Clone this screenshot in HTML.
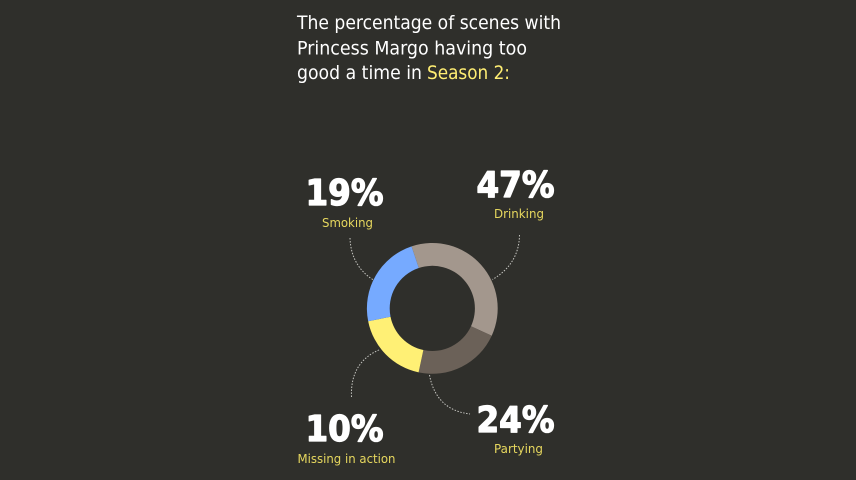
<!DOCTYPE html>
<html lang="en">
<head>
<meta charset="utf-8">
<title>Princess Margo donut chart</title>
<style>
  html, body { margin: 0; padding: 0; width: 856px; height: 480px; background: #2f2f2b; overflow: hidden; }
  svg { display: block; }
  text { font-family: "DejaVu Sans", "Liberation Sans", sans-serif; }
  .title { font-size: 19px; fill: #ffffff; }
  .accent { fill: #ffee73; }
  .pct { font-size: 36px; font-weight: bold; fill: #ffffff; stroke: #ffffff; stroke-width: 1.3px; stroke-linejoin: round; }
  .cat { font-size: 12.5px; fill: #e6d75e; }
  .connector { fill: none; stroke: #e0e0dc; stroke-width: 1; stroke-dasharray: 1.5 1.5; opacity: .85; }
</style>
</head>
<body>
<svg id="chart" width="856" height="480" viewBox="0 0 856 480" xmlns="http://www.w3.org/2000/svg">
  <rect x="0" y="0" width="856" height="480" fill="#2f2f2b"/>
  <g>
    <text class="title" x="297" y="29" textLength="264" lengthAdjust="spacingAndGlyphs">The percentage of scenes with</text>
    <text class="title" x="297" y="54.5" textLength="230" lengthAdjust="spacingAndGlyphs">Princess Margo having too</text>
    <text class="title" x="297" y="79" textLength="125" lengthAdjust="spacingAndGlyphs">good a time in</text>
    <text class="title accent" x="427" y="79" textLength="83" lengthAdjust="spacingAndGlyphs">Season 2:</text>
  </g>
  <g id="slices"></g>
  <g>
    <path class="connector" d="M519.5 235 Q519 264 492.5 279.5"/>
    <path class="connector" d="M429.5 375 Q436 410 470 414"/>
    <path class="connector" d="M351.5 397 Q350 362 380 349.5"/>
    <path class="connector" d="M350 238 Q351 266 373.5 280"/>
  </g>
  <g id="labels"></g>
</svg>
<script>
const categories = ["Drinking", "Partying", "Missing in action", "Smoking"];
const sliceValues = [37, 21.5, 18.5, 23];
const printedValues = ["47%", "24%", "10%", "19%"];
const sliceColors = ["#a3978d", "#6b6158", "#fff075", "#76aaff"];

const NS = "http://www.w3.org/2000/svg";
const cx = 432.3, cy = 308.4, outerR = 65.4, innerR = 42.6, startDeg = -18.5;
const total = sliceValues.reduce(function (a, b) { return a + b; }, 0);

function angleOf(cumulative) {
  return (startDeg + cumulative / total * 360) * Math.PI / 180;
}
function pointAt(radius, angle) {
  return [cx + radius * Math.sin(angle), cy - radius * Math.cos(angle)];
}
function arcPath(a0, a1) {
  const large = a1 - a0 > Math.PI ? 1 : 0;
  const p0 = pointAt(outerR, a0), p1 = pointAt(outerR, a1);
  const p2 = pointAt(innerR, a1), p3 = pointAt(innerR, a0);
  return "M" + p0[0] + " " + p0[1] +
    "A" + outerR + " " + outerR + " 0 " + large + " 1 " + p1[0] + " " + p1[1] +
    "L" + p2[0] + " " + p2[1] +
    "A" + innerR + " " + innerR + " 0 " + large + " 0 " + p3[0] + " " + p3[1] + "Z";
}

const sliceGroup = document.getElementById("slices");
let running = 0;
sliceValues.forEach(function (value, i) {
  const path = document.createElementNS(NS, "path");
  path.setAttribute("d", arcPath(angleOf(running), angleOf(running + value)));
  path.setAttribute("fill", sliceColors[i]);
  
  
  sliceGroup.appendChild(path);
  running += value;
});

/* Label placement, indexed the same way as categories */
const pctX = [476.5, 476.5, 305.5, 305.5], pctY = [197, 432, 441, 205], pctW = [78, 78, 78, 78];
const catX = [494, 494, 297.5, 322], catY = [218, 453, 463, 227], catW = [50, 49, 98, 51];
const labelGroup = document.getElementById("labels");
categories.forEach(function (name, i) {
  const pct = document.createElementNS(NS, "text");
  pct.setAttribute("class", "pct");
  pct.setAttribute("x", pctX[i]);
  pct.setAttribute("y", pctY[i]);
  pct.setAttribute("textLength", pctW[i]);
  pct.setAttribute("lengthAdjust", "spacingAndGlyphs");
  pct.textContent = printedValues[i];
  
  
  labelGroup.appendChild(pct);

  const cat = document.createElementNS(NS, "text");
  cat.setAttribute("class", "cat");
  cat.setAttribute("x", catX[i]);
  cat.setAttribute("y", catY[i]);
  cat.setAttribute("textLength", catW[i]);
  cat.setAttribute("lengthAdjust", "spacingAndGlyphs");
  cat.textContent = name;
  
  
  labelGroup.appendChild(cat);
});
</script>
</body>
</html>
